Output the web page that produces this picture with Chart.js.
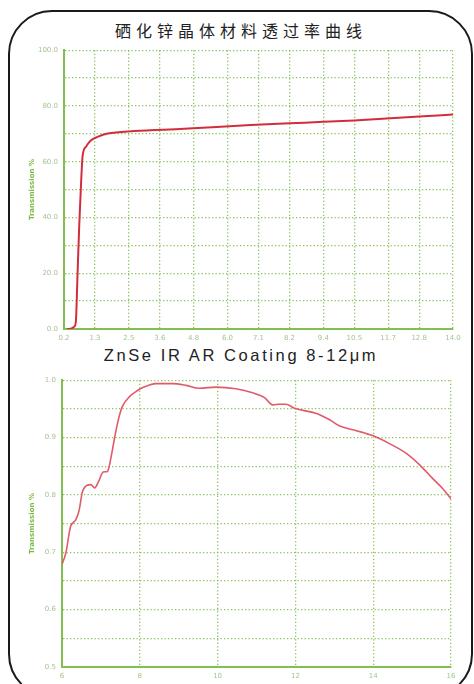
<!DOCTYPE html>
<html>
<head>
<meta charset="utf-8">
<script src="https://cdn.jsdelivr.net/npm/chart.js@4/dist/chart.umd.min.js"></script>
<style>
html,body{margin:0;padding:0;background:#fff;width:474px;height:684px;overflow:hidden;}
#frame{position:absolute;left:8px;top:10px;width:461px;height:684px;border:2px solid #1a1a1a;border-radius:44px;}
.t{position:absolute;left:0;width:474px;text-align:center;color:#222;white-space:nowrap;}
#t1{top:18px;font-family:"Noto Sans CJK SC",sans-serif;font-size:16px;letter-spacing:5px;padding-left:8px;box-sizing:border-box;}
#t2{top:346px;font-family:"Liberation Sans",Arial,sans-serif;font-size:16.5px;letter-spacing:2.6px;padding-left:8px;box-sizing:border-box;}
canvas{position:absolute;left:0;}
#c1{top:40px;}
#c2{top:370px;}
</style>
</head>
<body>
<div id="frame"></div>
<div class="t" id="t1">硒化锌晶体材料透过率曲线</div>
<div class="t" id="t2">ZnSe IR AR Coating 8-12μm</div>
<canvas id="c1" width="474" height="310"></canvas>
<canvas id="c2" width="474" height="314"></canvas>
<script>
// ---- Data: top chart (ZnSe material transmission, %) ----
const topWavelength = [0.3, 0.39, 0.56, 0.62, 0.68, 0.74, 0.80, 0.86, 0.98, 1.16, 1.39, 1.75, 2.69, 4.46, 6.82, 8.2, 9.4, 10.5, 12.8, 14.0];
const topTransmission = [0, 0, 0.8, 2.6, 19.6, 37, 51, 62, 65.4, 67.7, 68.9, 70.1, 71.0, 71.8, 73.2, 73.8, 74.3, 74.8, 76.2, 76.9];
const topXTicks = [0.2, 1.3, 2.5, 3.6, 4.8, 6.0, 7.1, 8.2, 9.4, 10.5, 11.7, 12.8, 14.0];

// ---- Data: bottom chart (ZnSe IR AR coating 8-12um) ----
const botWavelength = [6.0, 6.1, 6.22, 6.35, 6.44, 6.52, 6.65, 6.74, 6.84, 6.95, 7.06, 7.17, 7.21, 7.30, 7.37, 7.47, 7.55, 7.73, 7.94, 8.11, 8.41, 8.84, 9.19, 9.53, 9.96, 10.47, 10.90, 11.2, 11.42, 11.59, 11.76, 11.98, 12.54, 12.88, 13.14, 13.57, 14.0, 14.43, 14.86, 15.2, 15.55, 15.80, 16.0];
const botTransmission = [0.679, 0.699, 0.745, 0.756, 0.773, 0.804, 0.817, 0.818, 0.812, 0.825, 0.840, 0.841, 0.849, 0.880, 0.906, 0.937, 0.954, 0.971, 0.982, 0.988, 0.994, 0.994, 0.991, 0.986, 0.988, 0.985, 0.978, 0.970, 0.957, 0.958, 0.958, 0.951, 0.942, 0.931, 0.920, 0.912, 0.903, 0.889, 0.872, 0.852, 0.827, 0.810, 0.793];

const yTitle = 'Transmission %';
const gridColor = 'rgba(120,185,60,0.85)';
const axisColor = 'rgb(130,190,80)';
const tickColor = 'rgb(165,195,145)';
const titleColor = 'rgb(125,185,65)';

function pts(xs, ys){ return xs.map((x,i)=>({x:x, y:ys[i]})); }

function makeChart(id, cfg){
  return new Chart(document.getElementById(id), {
    type: 'line',
    data: { datasets: [{
      data: pts(cfg.xs, cfg.ys),
      borderColor: cfg.lineColor,
      borderWidth: cfg.lineWidth,
      pointRadius: 0,
      fill: false,
      cubicInterpolationMode: 'monotone'
    }]},
    options: {
      responsive: false,
      animation: false,
      events: [],
      layout: { padding: { left: 0, right: cfg.padRight, top: cfg.padTop, bottom: 0 } },
      plugins: { legend: { display: false }, tooltip: { enabled: false }, title: { display: false } },
      scales: {
        x: {
          type: 'linear',
          min: cfg.xMin, max: cfg.xMax,
          afterBuildTicks: cfg.xTicks ? (s)=>{ s.ticks = cfg.xTicks.map(v=>({value:v})); } : undefined,
          ticks: {
            stepSize: cfg.xStep,
            autoSkip: false,
            maxRotation: 0,
            padding: 5,
            color: tickColor,
            font: { family: 'DejaVu Sans', size: 7 },
            callback: cfg.xFmt
          },
          grid: { color: gridColor, lineWidth: 1.3, drawTicks: false },
          border: { display: true, color: axisColor, width: 2, dash: [1.3, 2.2] },
          afterFit: (s)=>{ s.height = cfg.xAxisH; }
        },
        y: {
          type: 'linear',
          min: cfg.yMin, max: cfg.yMax,
          ticks: {
            stepSize: cfg.yStep,
            autoSkip: false,
            padding: 6,
            color: tickColor,
            font: { family: 'DejaVu Sans', size: 7 },
            callback: cfg.yFmt
          },
          grid: { color: gridColor, lineWidth: 1.3, drawTicks: false },
          border: { display: true, color: axisColor, width: 2, dash: [1.3, 2.2] },
          title: {
            display: true, text: yTitle, color: titleColor,
            font: { family: 'DejaVu Sans', size: 7, weight: 'bold' },
            padding: { top: 28, bottom: 0 }
          },
          afterFit: (s)=>{ s.width = cfg.yAxisW; }
        }
      }
    }
  });
}

makeChart('c1', {
  xs: topWavelength, ys: topTransmission,
  lineColor: 'rgb(210,45,60)', lineWidth: 2,
  xMin: 0.2, xMax: 14.0, xTicks: topXTicks, xStep: 1.15,
  xFmt: (v)=>Number(v).toFixed(1),
  yMin: 0, yMax: 100, yStep: 10,
  yFmt: (v)=> (Math.round(v) % 20 === 0) ? Number(v).toFixed(1) : '',
  padRight: 21, padTop: 5, xAxisH: 21, yAxisW: 64
});

makeChart('c2', {
  xs: botWavelength, ys: botTransmission,
  lineColor: 'rgb(225,90,105)', lineWidth: 1.6,
  xMin: 6, xMax: 16, xTicks: null, xStep: 2,
  xFmt: (v)=>String(v),
  yMin: 0.5, yMax: 1.0, yStep: 0.05,
  yFmt: (v)=> (Math.abs(v*10 - Math.round(v*10)) < 1e-6) ? Number(v).toFixed(1) : '',
  padRight: 23, padTop: 3, xAxisH: 17, yAxisW: 62
});
</script>
</body>
</html>
